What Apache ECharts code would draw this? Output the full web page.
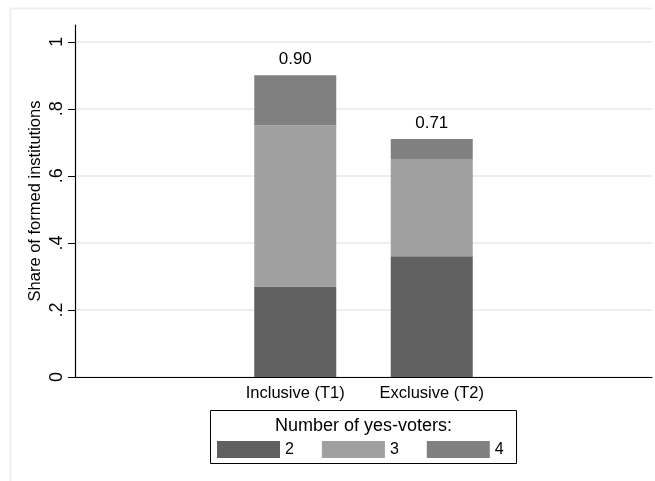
<!DOCTYPE html>
<html>
<head>
<meta charset="utf-8">
<style>
  html, body { margin: 0; padding: 0; background: #fff; }
  #chart { width: 655px; height: 481px; }
</style>
<script src="https://cdn.jsdelivr.net/npm/echarts@6/dist/echarts.min.js"></script>
</head>
<body>
<div id="chart"></div>
<script>
// Treatments shown on the horizontal axis
const categories = ['Inclusive (T1)', 'Exclusive (T2)'];
// Share of formed institutions, split by number of yes-voters
const yes2 = [0.27, 0.36];
const yes3 = [0.48, 0.29];
const yes4 = [0.15, 0.06];
const seriesNames = ['2', '3', '4'];
const yTicks = [0, 0.2, 0.4, 0.6, 0.8, 1];

const totals = categories.map((_, i) => yes2[i] + yes3[i] + yes4[i]);

const FONT = '"Liberation Sans", Arial, sans-serif';
const colors = ['#606060', '#a0a0a0', '#808080'];
const grid = '#e8e8e8';
const Y_MAX = 1.05;

function yLabel(v) {
  const r = Math.round(v * 10) / 10;
  if (r === 0) return '0';
  if (r === 1) return '1';
  return String(r).replace(/^0/, '');
}

function barSeries(name, values, idx, withTotal) {
  return {
    name: name,
    type: 'bar',
    stack: 'share',
    xAxisIndex: 1,
    yAxisIndex: 1,
    barWidth: 82,
    itemStyle: { color: colors[idx] },
    data: values,
    label: withTotal ? {
      show: true,
      position: 'top',
      distance: 7,
      fontFamily: FONT,
      fontSize: 17,
      color: '#000',
      formatter: p => totals[p.dataIndex].toFixed(2)
    } : { show: false },
    emphasis: { disabled: true }
  };
}

const chart = echarts.init(document.getElementById('chart'), null, { renderer: 'canvas' });
chart.setOption({
  animation: false,
  backgroundColor: '#fff',
  textStyle: { fontFamily: FONT },
  // grid 0: full plot frame (axes, gridlines); grid 1: narrower band holding the two bars
  grid: [
    { left: 75, right: 3, top: 25, bottom: 104, containLabel: false },
    { left: 227, right: 155, top: 25, bottom: 104, containLabel: false }
  ],
  xAxis: [
    {
      type: 'value',
      gridIndex: 0,
      min: 0,
      max: 1,
      axisLine: { show: true, onZero: false, lineStyle: { color: '#000', width: 1.2 } },
      axisTick: { show: false },
      axisLabel: { show: false },
      splitLine: { show: false }
    },
    {
      type: 'category',
      gridIndex: 1,
      data: categories,
      axisLine: { show: false },
      axisTick: { show: false },
      axisLabel: {
        fontFamily: FONT,
        fontSize: 16.5,
        color: '#000',
        margin: 8
      }
    }
  ],
  yAxis: [
    {
      type: 'value',
      gridIndex: 0,
      min: 0,
      max: Y_MAX,
      interval: 0.2,
      name: 'Share of formed institutions',
      nameLocation: 'middle',
      nameRotate: 90,
      nameGap: 31,
      nameMoveOverlap: false,
      nameTextStyle: { fontFamily: FONT, fontSize: 16.5, color: '#000' },
      axisLine: { show: true, onZero: false, lineStyle: { color: '#000', width: 1.2 } },
      axisTick: {
        show: true,
        customValues: yTicks,
        length: 7,
        lineStyle: { color: '#000', width: 1 }
      },
      axisLabel: {
        customValues: yTicks,
        rotate: 90,
        margin: 9,
        fontFamily: FONT,
        fontSize: 18,
        color: '#000',
        formatter: yLabel
      },
      splitLine: {
        show: true,
        lineStyle: {
          color: [grid, grid, grid, grid, grid, grid, 'rgba(0,0,0,0)'],
          width: 1.5
        }
      }
    },
    {
      type: 'value',
      gridIndex: 1,
      min: 0,
      max: Y_MAX,
      show: false,
      splitLine: { show: false }
    }
  ],
  legend: {
    data: seriesNames,
    left: 217,
    top: 441,
    padding: 0,
    itemWidth: 63,
    itemHeight: 17,
    itemGap: 28,
    icon: 'rect',
    selectedMode: false,
    textStyle: { fontFamily: FONT, fontSize: 16, color: '#000' }
  },
  graphic: [
    {
      type: 'line',
      shape: { x1: 10, y1: 8.5, x2: 652, y2: 8.5 },
      style: { stroke: '#efefef', lineWidth: 2 },
      silent: true
    },
    {
      type: 'line',
      shape: { x1: 10.5, y1: 8, x2: 10.5, y2: 481 },
      style: { stroke: '#efefef', lineWidth: 2 },
      silent: true
    },
    {
      type: 'rect',
      shape: { x: 210.5, y: 410.5, width: 306, height: 53 },
      style: { fill: 'none', stroke: '#000', lineWidth: 1 },
      silent: true
    },
    {
      type: 'text',
      x: 363.5,
      y: 426,
      style: {
        text: 'Number of yes-voters:',
        fontFamily: FONT,
        fontSize: 18,
        fill: '#000',
        align: 'center',
        verticalAlign: 'middle'
      },
      silent: true
    }
  ],
  series: [
    barSeries(seriesNames[0], yes2, 0, false),
    barSeries(seriesNames[1], yes3, 1, false),
    barSeries(seriesNames[2], yes4, 2, true)
  ]
});
</script>
</body>
</html>
